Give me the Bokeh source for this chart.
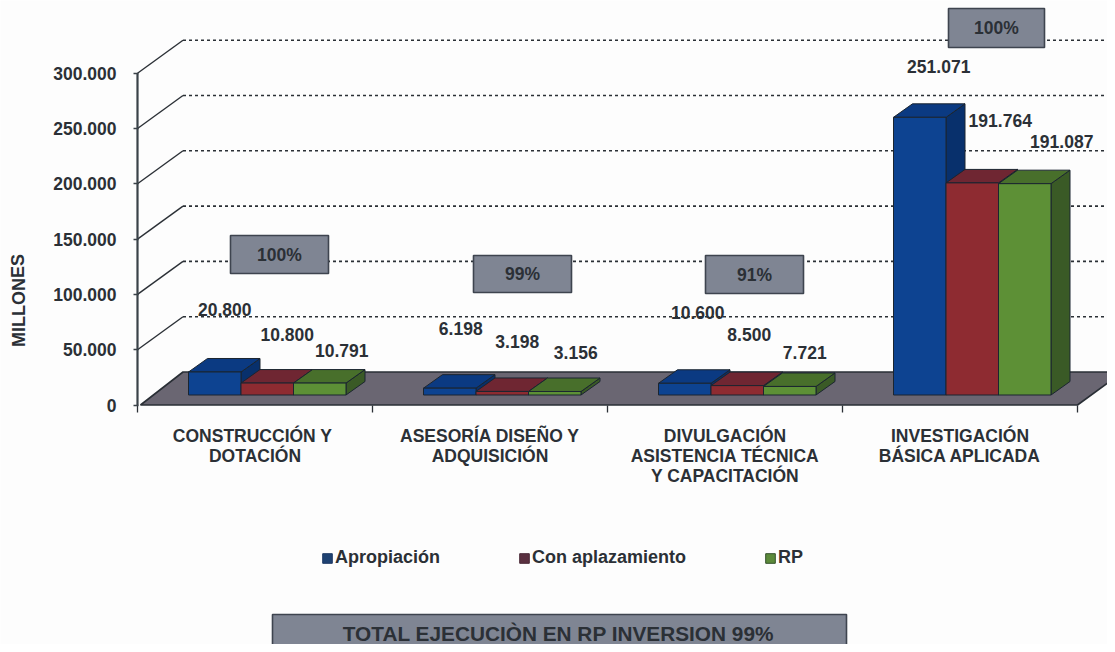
from bokeh.plotting import figure
from bokeh.embed import file_html
from bokeh.resources import INLINE
from bokeh.core.properties import value
from bokeh.models import (ColumnDataSource, FixedTicker, LinearAxis, Legend, LegendItem, Range1d)
import math

# ---------- data ----------
categories = ["CONSTRUCCIÓN  Y\nDOTACIÓN", "ASESORÍA DISEÑO Y\nADQUISICIÓN",
              "DIVULGACIÓN\nASISTENCIA TÉCNICA\nY CAPACITACIÓN", "INVESTIGACIÓN\nBÁSICA APLICADA"]
apropiacion = [20800, 6198, 10600, 251071]
con_aplazamiento = [10800, 3198, 8500, 191764]
rp = [10791, 3156, 7721, 191087]
value_labels = [["20.800", "6.198", "10.600", "251.071"],
                ["10.800", "3.198", "8.500", "191.764"],
                ["10.791", "3.156", "7.721", "191.087"]]
y_ticks = [0, 50000, 100000, 150000, 200000, 250000, 300000]
y_tick_labels = ["0", "50.000", "100.000", "150.000", "200.000", "250.000", "300.000"]
series_names = ["Apropiación", "Con aplazamiento", "RP"]
percent_labels = ["100%", "99%", "91%", "100%"]
total_label = "TOTAL EJECUCIÒN EN RP INVERSION 99%"

# ---------- layout / style ----------
W, H = 1107, 644
PX_CAT = 235.0             # pixels per category
PX_VAL = 1.106 / 1000      # pixels per value unit
X0, Y0 = 137.0, 404.5      # picture pixel of the chart origin
def dx(px): return px / PX_CAT
def dy(px): return px / PX_VAL
def cx(px): return (px - X0) / PX_CAT      # picture px -> category coordinate
def cy(px): return (Y0 - px) / PX_VAL      # picture px -> value coordinate

WALL_DX, WALL_DY = 45.5, 33.0
BAR_START, BAR_W = 51.0, 52.5
BAR_LIFT = 10.0
BAR_DX, BAR_DY = 19.0, 13.5
INK = "#2b3036"
FONT = value("Liberation Sans")
front = ["#0d4391", "#8e2b31", "#5d9036"]
top = ["#0b3a82", "#6f2632", "#486f2b"]
side = ["#08306c", "#5b2028", "#3a5a26"]
legend_fill = ["#1e4272", "#5a3040", "#5c8a3a"]
legend_line = ["#1e3a66", "#4a2a38", "#33502a"]
box_fill, box_line = "#7f8593", "#3e444f"
# label offsets from each bar's top centre, in pixels
label_off = [[(10, -62), (11, -60), (13, -71), (19, -51)],
             [(20, -49), (15, -50), (12, -51), (28, -62)],
             [(22, -33), (21, -39), (15, -34), (37, -42)]]
box_px = [(230, 328, 235, 273), (473, 571, 255, 292), (705, 803, 255, 293), (948, 1044, 8, 47)]

p = figure(width=W, height=H, output_backend="svg", toolbar_location=None,
           x_range=Range1d(cx(0), cx(W)), y_range=Range1d(cy(H), cy(0)),
           x_axis_type=None, y_axis_type=None, min_border=0,
           background_fill_color="#fdfdfd", border_fill_color="#fdfdfd", outline_line_color=None)
p.grid.visible = False

# back wall lines
for v in y_ticks[1:]:
    p.line([0, dx(WALL_DX)], [v, v + dy(WALL_DY)], line_color=INK, line_width=1.4)
    p.line([dx(WALL_DX), cx(W)], [v + dy(WALL_DY), v + dy(WALL_DY)], line_color=INK,
           line_width=1.6, line_dash="3 3")

# floor
n = len(categories)
p.patch([dx(3), n, n + dx(WALL_DX), dx(WALL_DX)],
        [0, 0, dy(WALL_DY), dy(WALL_DY)],
        fill_color="#6a6672", line_color="#2a2f36", line_width=1.6)

# bars
series = [apropiacion, con_aplazamiento, rp]
for c in range(n):
    for s, vals in enumerate(series):
        v = vals[c]
        l = c + dx(BAR_START + s * BAR_W)
        r = l + dx(BAR_W)
        b = dy(BAR_LIFT)
        t = b + v
        ox, oy = dx(BAR_DX), dy(BAR_DY)
        edge = dict(line_color="#1b2530", line_width=1.0)
        p.patch([r, r + ox, r + ox, r], [b, b + oy, t + oy, t], fill_color=side[s], **edge)
        p.patch([l, r, r + ox, l + ox], [t, t, t + oy, t + oy], fill_color=top[s], **edge)
        p.quad(left=[l], right=[r], bottom=[b], top=[t], fill_color=front[s], **edge)

# value labels
lx, ly, lt, xo, yo = [], [], [], [], []
for s, vals in enumerate(series):
    for c, v in enumerate(vals):
        lx.append(c + dx(BAR_START + (s + 0.5) * BAR_W))
        ly.append(dy(BAR_LIFT) + v)
        lt.append(value_labels[s][c])
        xo.append(label_off[s][c][0])
        yo.append(label_off[s][c][1])
p.text(x="x", y="y", text="t", x_offset="xo", y_offset="yo",
       source=ColumnDataSource(dict(x=lx, y=ly, t=lt, xo=xo, yo=yo)),
       text_font=FONT, text_font_style="bold", text_font_size="17.5px", text_color=INK,
       text_align="center", text_baseline="middle")

# percent boxes
p.quad(left=[cx(b[0]) for b in box_px], right=[cx(b[1]) for b in box_px],
       top=[cy(b[2]) for b in box_px], bottom=[cy(b[3]) for b in box_px],
       fill_color=box_fill, line_color=box_line, line_width=1.6)
p.text(x=[cx((b[0] + b[1]) / 2) for b in box_px], y=[cy((b[2] + b[3]) / 2) for b in box_px],
       text=percent_labels, text_font=FONT, text_font_style="bold", text_font_size="17.5px",
       text_color=INK, text_align="center", text_baseline="middle")

# total box
p.quad(left=[cx(272)], right=[cx(846)], top=[cy(614)], bottom=[cy(656)],
       fill_color=box_fill, line_color=box_line, line_width=1.6)
p.text(x=[cx(558)], y=[cy(633)], text=[total_label], text_font=FONT, text_font_style="bold",
       text_font_size="20.8px", text_color=INK, text_align="center", text_baseline="middle")

# axis title
p.text(x=[cx(18)], y=[cy(300)], text=["MILLONES"], angle=[math.pi / 2], text_font=FONT,
       text_font_style="bold", text_font_size="18px", text_color=INK,
       text_align="center", text_baseline="middle")

# value axis
ya = LinearAxis(fixed_location=0, bounds=(0, 300000), ticker=FixedTicker(ticks=y_ticks),
                major_label_overrides=dict(zip(y_ticks, y_tick_labels)),
                major_label_standoff=17, major_tick_in=1, major_tick_out=4, minor_tick_line_color=None,
                axis_line_color="#3a4248", axis_line_width=2.2, major_tick_line_color="#3a4248",
                major_tick_line_width=1.5, major_label_text_font="Liberation Sans",
                major_label_text_font_style="bold", major_label_text_font_size="17.5px",
                major_label_text_color=INK)
p.add_layout(ya, "left")

# category tick marks
tick_pos = list(range(n + 1))
xa = LinearAxis(fixed_location=0, bounds=(0, n), ticker=FixedTicker(ticks=tick_pos),
                major_label_overrides={t: "" for t in tick_pos}, major_tick_in=0, major_tick_out=7,
                minor_tick_line_color=None, axis_line_color=None, major_tick_line_color=INK,
                major_tick_line_width=1.3)
p.add_layout(xa, "below")

# category labels
label_pos = [i + 0.5 for i in range(n)]
xb = LinearAxis(fixed_location=0, ticker=FixedTicker(ticks=label_pos),
                major_label_overrides=dict(zip(label_pos, categories)), major_tick_in=0, major_tick_out=0,
                minor_tick_line_color=None, axis_line_color=None, major_label_standoff=21,
                major_label_text_font="Liberation Sans", major_label_text_font_style="bold",
                major_label_text_font_size="17.5px", major_label_text_color=INK,
                major_label_text_line_height=1.0)
p.add_layout(xb, "below")

# legend
items = []
for s, name in enumerate(series_names):
    r = p.quad(left=[float("nan")], right=[float("nan")], top=[float("nan")], bottom=[float("nan")],
               fill_color=legend_fill[s], line_color=legend_line[s])
    items.append(LegendItem(label=name, renderers=[r]))
leg = Legend(items=items, orientation="horizontal", location=(321, H - 568), spacing=78,
             padding=0, margin=0, glyph_width=12, glyph_height=12, label_standoff=2,
             border_line_color=None, background_fill_alpha=0, label_text_font="Liberation Sans",
             label_text_font_style="bold", label_text_font_size="18px", label_text_color=INK,
             label_height=18)
p.add_layout(leg, "center")

open("out.html", "w").write(file_html(p, INLINE))
